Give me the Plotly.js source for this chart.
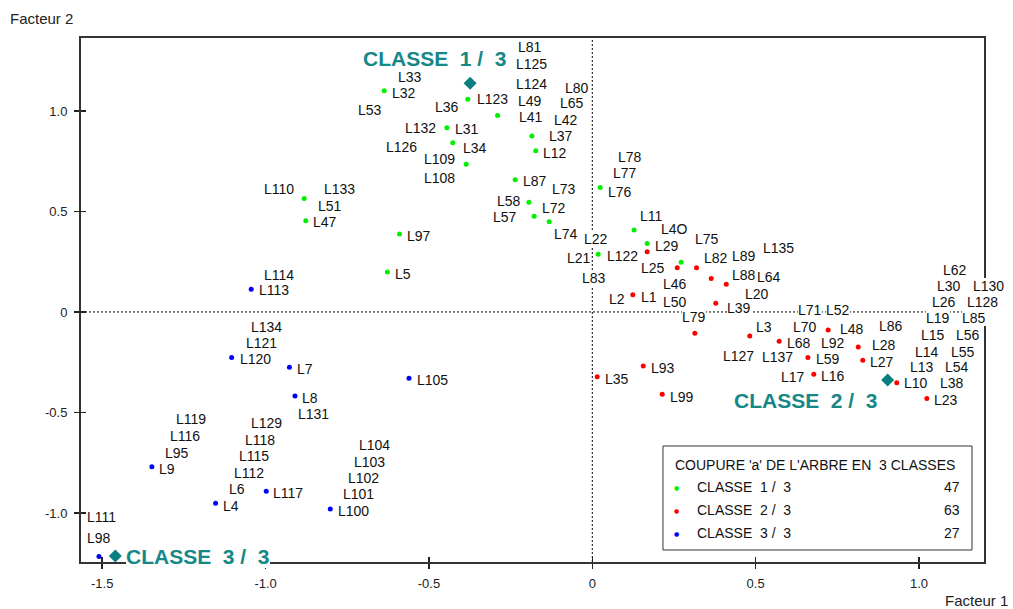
<!DOCTYPE html>
<html>
<head>
<meta charset="utf-8">
<script src="https://cdn.plot.ly/plotly-3.0.1.min.js"></script>
<style>
html,body{margin:0;padding:0;background:#fff;}
#chart{width:1013px;height:609px;}
</style>
</head>
<body>
<div id="chart"></div>
<script>
// ---- data (Facteur 1, Facteur 2) ----
const class1X = [-0.637,-0.381,-0.290,-0.445,-0.427,-0.185,-0.173,-0.386,-0.236,0.024,-0.194,-0.178,-0.132,0.128,0.168,0.018,0.272,-0.882,-0.877,-0.590,-0.627];
const class1Y = [1.100,1.058,0.977,0.917,0.842,0.876,0.802,0.735,0.658,0.619,0.546,0.476,0.449,0.408,0.340,0.287,0.247,0.564,0.454,0.388,0.199];

const class2X = [0.168,0.260,0.319,0.364,0.410,0.124,0.378,0.314,0.482,0.572,0.722,0.814,0.660,0.828,0.678,0.932,1.024,0.015,0.156,0.214];
const class2Y = [0.299,0.220,0.220,0.166,0.138,0.085,0.043,-0.106,-0.119,-0.146,-0.090,-0.174,-0.227,-0.240,-0.310,-0.352,-0.431,-0.322,-0.269,-0.409];

const class3X = [-1.044,-1.104,-0.927,-0.910,-0.561,-1.348,-0.998,-1.153,-0.802,-1.510];
const class3Y = [0.113,-0.227,-0.275,-0.418,-0.330,-0.770,-0.892,-0.952,-0.980,-1.217];

const centerNames = ["CLASSE&nbsp; 1 /&nbsp; 3","CLASSE&nbsp; 2 /&nbsp; 3","CLASSE&nbsp; 3 /&nbsp; 3"];
const centerX = [-0.374, 0.904, -1.460];
const centerY = [1.138, -0.338, -1.214];
const centerLabelX = [-0.702, 0.434, -1.428];
const centerLabelY = [1.259, -0.441, -1.217];

const labelText = ["L81","L125","L124","L49","L41","L80","L65","L42","L37","L12","L33","L32","L53","L36","L123","L132","L31","L126","L34","L109","L108","L87","L73","L78","L77","L76","L58","L72","L57","L74","L11","L4O","L22","L29","L75","L21","L122","L89","L135","L82","L25","L88","L64","L83","L46","L20","L2","L1","L50","L39","L79","L110","L133","L51","L47","L97","L5","L114","L113","L62","L30","L130","L26","L128","L19","L85","L15","L56","L14","L55","L13","L54","L10","L38","L23","L71","L52","L70","L48","L86","L3","L68","L92","L28","L127","L137","L59","L27","L17","L16","L35","L93","L99","L134","L121","L120","L7","L105","L8","L131","L119","L129","L116","L118","L104","L95","L115","L103","L9","L112","L102","L6","L117","L101","L4","L100","L111","L98"];
const labelX = [-0.228,-0.234,-0.234,-0.228,-0.225,-0.084,-0.099,-0.117,-0.133,-0.151,-0.595,-0.613,-0.717,-0.481,-0.354,-0.573,-0.420,-0.632,-0.397,-0.515,-0.515,-0.213,-0.124,0.079,0.063,0.048,-0.292,-0.155,-0.304,-0.117,0.146,0.209,-0.025,0.192,0.314,-0.077,0.044,0.428,0.522,0.342,0.148,0.428,0.503,-0.032,0.216,0.467,0.051,0.148,0.216,0.412,0.274,-1.005,-0.821,-0.840,-0.856,-0.567,-0.604,-1.005,-1.020,1.073,1.055,1.164,1.039,1.146,1.021,1.131,1.005,1.113,0.988,1.097,0.972,1.080,0.954,1.064,1.046,0.630,0.714,0.613,0.758,0.878,0.501,0.596,0.700,0.855,0.400,0.519,0.684,0.850,0.577,0.700,0.039,0.180,0.238,-1.045,-1.061,-1.078,-0.905,-0.537,-0.888,-0.900,-1.275,-1.046,-1.293,-1.063,-0.714,-1.308,-1.080,-0.729,-1.326,-1.097,-0.747,-1.112,-0.976,-0.764,-1.129,-0.779,-1.548,-1.548];
const labelY = [1.317,1.234,1.133,1.051,0.969,1.116,1.038,0.955,0.876,0.793,1.171,1.091,1.005,1.021,1.058,0.917,0.909,0.822,0.814,0.760,0.668,0.652,0.610,0.773,0.690,0.599,0.552,0.516,0.471,0.387,0.478,0.413,0.362,0.330,0.362,0.267,0.279,0.280,0.317,0.267,0.217,0.184,0.176,0.171,0.139,0.090,0.063,0.076,0.048,0.018,-0.023,0.610,0.610,0.527,0.449,0.378,0.189,0.184,0.109,0.209,0.131,0.131,0.048,0.048,-0.031,-0.031,-0.114,-0.114,-0.198,-0.198,-0.275,-0.275,-0.355,-0.355,-0.438,0.010,0.010,-0.076,-0.085,-0.070,-0.076,-0.153,-0.156,-0.164,-0.217,-0.225,-0.234,-0.250,-0.322,-0.317,-0.333,-0.280,-0.421,-0.076,-0.156,-0.235,-0.285,-0.338,-0.426,-0.509,-0.532,-0.554,-0.615,-0.637,-0.662,-0.700,-0.716,-0.745,-0.781,-0.800,-0.827,-0.882,-0.899,-0.907,-0.964,-0.989,-1.021,-1.126];

const legendTitle = "COUPURE 'a' DE L'ARBRE EN&nbsp; 3 CLASSES";
const legendNames = ["CLASSE&nbsp; 1 /&nbsp; 3","CLASSE&nbsp; 2 /&nbsp; 3","CLASSE&nbsp; 3 /&nbsp; 3"];
const legendCounts = ["47","63","27"];
const classColors = ["#00f000","#ff0000","#0000ff"];

const xTickVals = [-1.5,-1.0,-0.5,0,0.5,1.0];
const xTickText = ["-1.5","-1.0","-0.5","0","0.5","1.0"];
const yTickVals = [-1.0,-0.5,0,0.5,1.0];
const yTickText = ["-1.0","-0.5","0","0.5","1.0"];

// ---- traces ----
const ptsX = [class1X, class2X, class3X];
const ptsY = [class1Y, class2Y, class3Y];
const traces = ptsX.map((xs,i)=>({
  type:'scatter', mode:'markers', x:xs, y:ptsY[i],
  marker:{color:classColors[i], size:5, line:{width:0}},
  showlegend:false, hoverinfo:'skip', cliponaxis:false
}));
traces.push({
  type:'scatter', mode:'markers', x:centerX, y:centerY,
  marker:{symbol:'diamond', color:'#0a7f7f', size:10, line:{width:0}},
  showlegend:false, hoverinfo:'skip', cliponaxis:false
});
// dummy trace for inner tick marks
traces.push({type:'scatter', mode:'markers', x:[0], y:[0], xaxis:'x2', yaxis:'y2',
  marker:{size:0, opacity:0}, showlegend:false, hoverinfo:'skip'});

const XR = [-1.565, 1.199];
const YR = [-1.244, 1.363];
const labFont = {family:'Liberation Sans, Arial, sans-serif', size:14, color:'#111'};
const ann = [];
labelText.forEach((t,i)=>{
  ann.push({x:labelX[i], y:labelY[i], xref:'x', yref:'y', text:t, showarrow:false,
    xanchor:'left', yanchor:'middle', font:labFont, bgcolor:'#ffffff', borderpad:0, borderwidth:0});
});
centerNames.forEach((t,i)=>{
  ann.push({x:centerLabelX[i], y:centerLabelY[i], xref:'x', yref:'y', text:'<b>'+t+'</b>', showarrow:false,
    xanchor:'left', yanchor:'middle', bgcolor:'#ffffff', borderpad:0, borderwidth:0,
    font:{family:'Liberation Sans, Arial, sans-serif', size:21, color:'#168787'}});
});
// axis titles
const axFont = {family:'Liberation Sans, Arial, sans-serif', size:15, color:'#222'};
ann.push({x:-0.0808, y:1.038, xref:'paper', yref:'paper', text:'Facteur 2', showarrow:false, xanchor:'left', yanchor:'middle', font:axFont});
ann.push({x:1.0288, y:-0.0744, xref:'paper', yref:'paper', text:'Facteur 1', showarrow:false, xanchor:'right', yanchor:'middle', font:axFont});
// legend box content
const legFont = {family:'Liberation Sans, Arial, sans-serif', size:14, color:'#111'};
ann.push({x:0.6556, y:0.1851, xref:'paper', yref:'paper', text:legendTitle, showarrow:false, xanchor:'left', yanchor:'middle', font:legFont});
const rowY = [0.1431, 0.0992, 0.0553];
legendNames.forEach((n,i)=>{
  ann.push({x:0.6597, y:rowY[i], xref:'paper', yref:'paper', text:'●', showarrow:false, xanchor:'center', yanchor:'middle',
    font:{family:'DejaVu Sans', size:6, color:classColors[i]}});
  ann.push({x:0.6800, y:rowY[i], xref:'paper', yref:'paper', text:n, showarrow:false, xanchor:'left', yanchor:'middle', font:legFont});
  ann.push({x:0.9756, y:rowY[i], xref:'paper', yref:'paper', text:legendCounts[i], showarrow:false, xanchor:'right', yanchor:'middle', font:legFont});
});

const tickFont = {family:'Liberation Sans, Arial, sans-serif', size:13, color:'#222'};
const layout = {
  width:1013, height:609,
  margin:{l:81, r:29, t:38, b:47, pad:0},
  paper_bgcolor:'#fff', plot_bgcolor:'#fff',
  showlegend:false,
  xaxis:{range:XR, tickvals:xTickVals, ticktext:xTickText, ticks:'outside', ticklen:5, tickwidth:1.5, tickcolor:'#222',
    showgrid:false, zeroline:false, showline:true, linecolor:'#333', linewidth:2, mirror:true, tickfont:tickFont, ticklabelstandoff:3},
  yaxis:{range:YR, tickvals:yTickVals, ticktext:yTickText, ticks:'outside', ticklen:5, tickwidth:1.5, tickcolor:'#222',
    showgrid:false, zeroline:false, showline:true, linecolor:'#333', linewidth:2, mirror:true, tickfont:tickFont, ticklabelstandoff:4},
  xaxis2:{range:XR, overlaying:'x', anchor:'y', side:'bottom', tickvals:xTickVals, ticks:'inside', ticklen:5, tickwidth:1.5, tickcolor:'#222',
    showticklabels:false, showgrid:false, zeroline:false, showline:false},
  yaxis2:{range:YR, overlaying:'y', anchor:'x', side:'left', tickvals:yTickVals, ticks:'inside', ticklen:5, tickwidth:1.5, tickcolor:'#222',
    showticklabels:false, showgrid:false, zeroline:false, showline:false},
  shapes:[
    {type:'line', xref:'x', yref:'paper', x0:0, x1:0, y0:0, y1:1, line:{color:'#000', width:1, dash:'2px,2px'}, layer:'below'},
    {type:'line', xref:'paper', yref:'y', x0:0, x1:1, y0:0, y1:0, line:{color:'#000', width:1, dash:'2px,2px'}, layer:'below'},
    {type:'rect', xref:'paper', yref:'paper', x0:0.6445, x1:0.9867, y0:0.0229, y1:0.2214, line:{color:'#333', width:1}, fillcolor:'#fff', layer:'above'}
  ],
  annotations:ann
};
Plotly.newPlot('chart', traces, layout, {staticPlot:true, displayModeBar:false});
</script>
</body>
</html>
